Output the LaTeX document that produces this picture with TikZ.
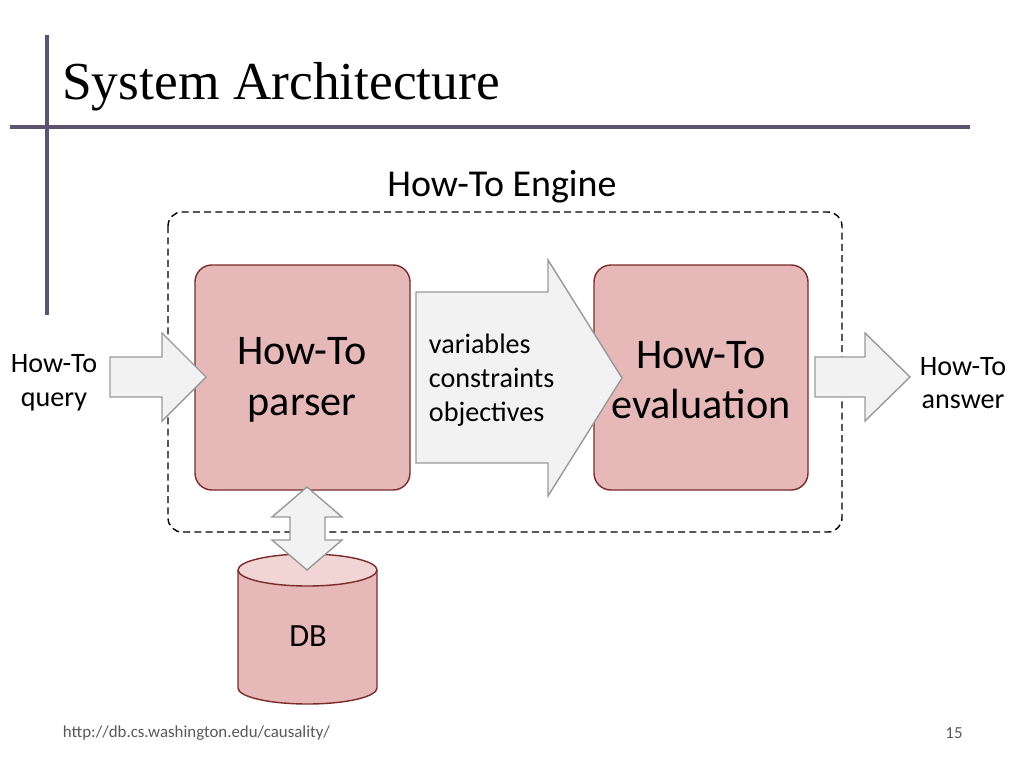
\documentclass[tikz,border=0pt]{standalone}
\usepackage{fontspec}
\setmainfont{Liberation Serif}
\newfontfamily\bodyfont{Carlito}
\usetikzlibrary{shapes.geometric, positioning}
\definecolor{rule}{HTML}{5E5273}
\definecolor{boxfill}{HTML}{E6B9B8}
\definecolor{boxline}{HTML}{7A2B2B}
\definecolor{arrowfill}{HTML}{F2F2F2}
\tikzset{
    stage/.style={draw=boxline, fill=boxfill, rounded corners=12pt, line width=1pt},
    blockArrow/.style={draw=gray!80, fill=arrowfill, line width=1pt, line join=miter},
    engine/.style={draw, dash pattern=on 5pt off 3pt, rounded corners=10pt, line width=1pt},
    lbl/.style={font=\bodyfont\fontsize{20}{24}\selectfont, align=center},
    bigLbl/.style={font=\bodyfont\fontsize{30}{36}\selectfont, align=center},
}
\begin{document}
\begin{tikzpicture}[x=0.025cm, y=-0.025cm]
    \useasboundingbox (0,0) rectangle (1024,768);

    % slide frame
    \draw[rule, line width=3pt] (47,35) -- (47,315);
    \draw[rule, line width=3pt] (10,127) -- (970,127);
    \node[anchor=base west, font=\fontsize{38}{42}\selectfont, inner sep=0pt] (title) at (62,100) {System Architecture};

    % engine
    \draw[engine] (168,212) rectangle (842,532);
    \node[font=\bodyfont\fontsize{27}{31}\selectfont] (eng) at (502,187) {How-To Engine};

    % stages
    \draw[stage] (195,265) rectangle (410,490);
    \node[bigLbl] (parser) at (302,380) {How-To\\parser};
    \draw[stage] (594,265) rectangle (808,490);
    \node[bigLbl] (eval) at (701,380) {How-To\\evaluation};

    % block arrows
    \draw[blockArrow] (416,292) -- (548,292) -- (548,260) -- (622,378) -- (548,496) -- (548,463) -- (416,463) -- cycle;
    \node[lbl, align=left, anchor=west] (vars) at (424,380) {variables\\constraints\\objectives};
    \draw[blockArrow] (110,357) -- (162,357) -- (162,333) -- (206,377) -- (162,421) -- (162,397) -- (110,397) -- cycle;
    \draw[blockArrow] (815,357) -- (865,357) -- (865,333) -- (910,377) -- (865,421) -- (865,397) -- (815,397) -- cycle;
    \node[lbl] (query) at (54,383) {How-To\\query};
    \node[lbl] (answer) at (963,383) {How-To\\answer};

    % database
    \draw[boxline, fill=boxfill, line width=1pt] (238,570) -- (238,688) arc[start angle=180, end angle=0, x radius=69.5, y radius=16] -- (377,570);
    \draw[boxline, fill=boxfill!60, line width=1pt] (307.5,570) ellipse[x radius=69.5, y radius=16];
    \node[lbl, font=\bodyfont\fontsize{23}{27}\selectfont] (db) at (308,636) {DB};
    \draw[blockArrow] (290,517) -- (272,517) -- (307,487) -- (342,517) -- (325,517) -- (325,540) -- (342,540) -- (307,570) -- (272,540) -- (290,540) -- cycle;

    % footer
    \node[anchor=west, font=\bodyfont\fontsize{12}{14}\selectfont, text=gray!70!black] (url) at (58,733) {http://db.cs.washington.edu/causality/};
    \node[font=\bodyfont\fontsize{12}{14}\selectfont, text=gray!70!black] (page) at (954,733) {15};
\end{tikzpicture}
\end{document}
